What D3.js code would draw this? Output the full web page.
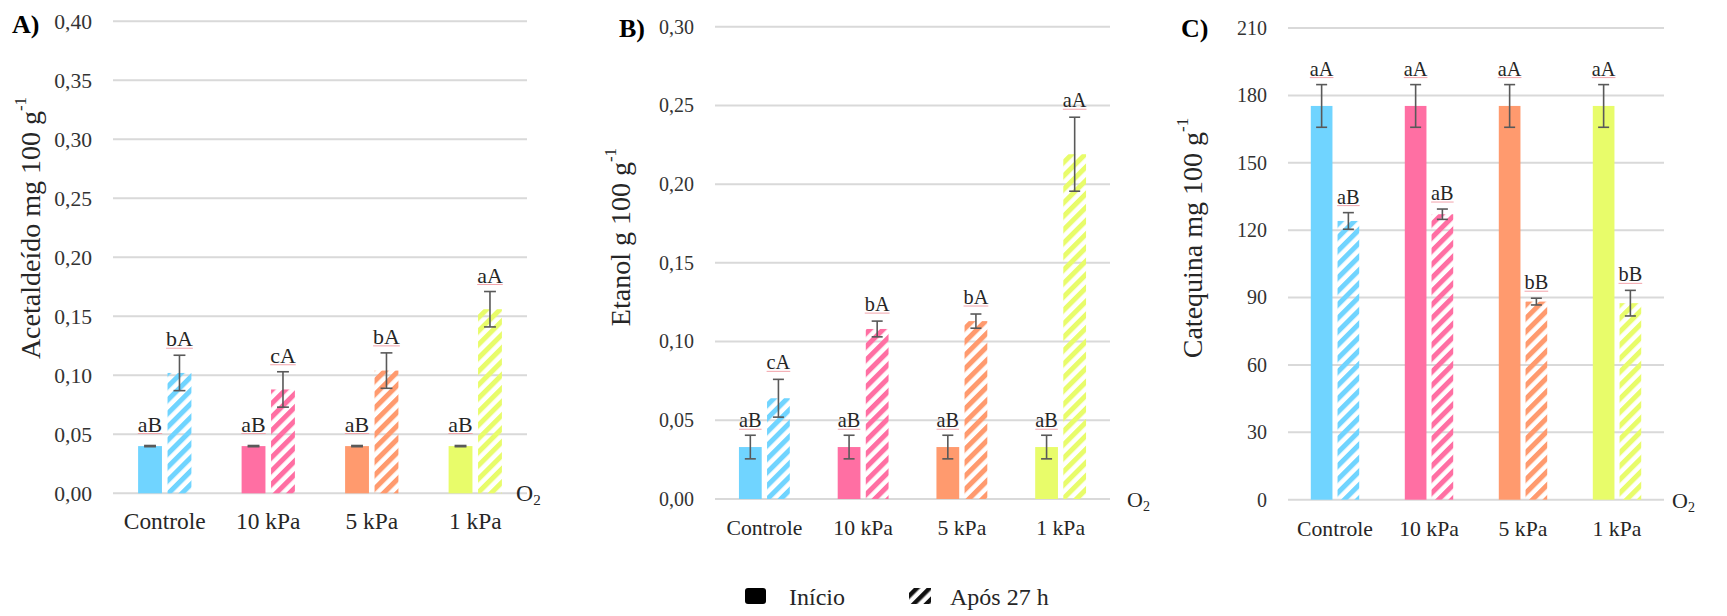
<!DOCTYPE html>
<html>
<head>
<meta charset="utf-8">
<script src="https://cdn.jsdelivr.net/npm/d3@7"></script>
<style>
  body { margin: 0; background: #fff; }
</style>
</head>
<body>
<svg id="chart" width="1727" height="616"></svg>
<script>
// categories and series
const categories = ["Controle", "10 kPa", "5 kPa", "1 kPa"]
const seriesNames = ["Início", "Após 27 h"]
const colors = ["#70d4ff", "#ff6fa3", "#ff9a6e", "#e8fc6a"]

// A) acetaldeído
const acetInicio = [0.040, 0.040, 0.040, 0.040]
const acetInicioErr = [0.0005, 0.0005, 0.0005, 0.0005]
const acetApos = [0.102, 0.088, 0.104, 0.156]
const acetAposErr = [0.015, 0.015, 0.015, 0.015]
const acetInicioLabels = ["aB", "aB", "aB", "aB"]
const acetAposLabels = ["bA", "cA", "bA", "aA"]
const acetTicks = [0, 0.05, 0.10, 0.15, 0.20, 0.25, 0.30, 0.35, 0.40]

// B) etanol
const etanolInicio = [0.033, 0.033, 0.033, 0.033]
const etanolInicioErr = [0.0075, 0.0075, 0.0075, 0.0075]
const etanolApos = [0.064, 0.108, 0.113, 0.219]
const etanolAposErr = [0.012, 0.005, 0.0045, 0.0235]
const etanolInicioLabels = ["aB", "aB", "aB", "aB"]
const etanolAposLabels = ["cA", "bA", "bA", "aA"]
const etanolTicks = [0, 0.05, 0.10, 0.15, 0.20, 0.25, 0.30]

// C) catequina
const catInicio = [175.3, 175.3, 175.3, 175.3]
const catInicioErr = [9.5, 9.5, 9.5, 9.5]
const catApos = [124.1, 127.1, 88.2, 87.5]
const catAposErr = [3.7, 2.3, 1.5, 5.7]
const catInicioLabels = ["aA", "aA", "aA", "aA"]
const catAposLabels = ["aB", "aB", "bB", "bB"]
const catTicks = [0, 30, 60, 90, 120, 150, 180, 210]

// find a serif face that is actually installed
function pickFont(list) {
    const ctx = document.createElement("canvas").getContext("2d")
    const probe = "Controle Acetaldeído 0,40 aB"
    ctx.font = "30px monospace"
    const base = ctx.measureText(probe).width
    for (const f of list) {
        ctx.font = `30px "${f}", monospace`
        if (Math.abs(ctx.measureText(probe).width - base) > 0.5) return `"${f}"`
    }
    return "serif"
}
const serif = pickFont(["Liberation Serif", "Tinos", "Times New Roman", "Nimbus Roman", "DejaVu Serif", "Noto Serif"])

const svg = d3.select("#chart")
    .style("font-family", serif)
const defs = svg.append("defs")

// hatch patterns, one per colour
colors.forEach((c, i) => {
    const p = defs.append("pattern")
        .attr("id", "hatch" + i)
        .attr("patternUnits", "userSpaceOnUse")
        .attr("width", 9.5).attr("height", 9.5)
        .attr("patternTransform", "rotate(45)")
    p.append("rect").attr("width", 5).attr("height", 9.5).attr("fill", c)
})
const lp = defs.append("pattern")
    .attr("id", "hatchLegend")
    .attr("patternUnits", "userSpaceOnUse")
    .attr("width", 9).attr("height", 9)
    .attr("patternTransform", "rotate(45)")
lp.append("rect").attr("width", 4.5).attr("height", 9).attr("fill", "#111")

const fmt2 = d => d3.format(".2f")(d).replace(".", ",")

const panels = [
    { letter: "A)", title: "Acetaldeído mg 100 g", inicio: acetInicio, inicioErr: acetInicioErr,
      apos: acetApos, aposErr: acetAposErr, inicioLabels: acetInicioLabels, aposLabels: acetAposLabels,
      ticks: acetTicks, fmt: fmt2, fs: 1.08, gap: [14, 9],
      left: 113, right: 527, bottom: 493.3, top: 21.3, o2X: 516,
      letterX: 12, letterY: 33, titleX: 30, titleY: 228 },
    { letter: "B)", title: "Etanol g 100 g", inicio: etanolInicio, inicioErr: etanolInicioErr,
      apos: etanolApos, aposErr: etanolAposErr, inicioLabels: etanolInicioLabels, aposLabels: etanolAposLabels,
      ticks: etanolTicks, fmt: fmt2, fs: 1.0, gap: [8, 10],
      left: 715, right: 1110, bottom: 499, top: 26.7, o2X: 1127,
      letterX: 619, letterY: 37, titleX: 620, titleY: 237 },
    { letter: "C)", title: "Catequina mg 100 g", inicio: catInicio, inicioErr: catInicioErr,
      apos: catApos, aposErr: catAposErr, inicioLabels: catInicioLabels, aposLabels: catAposLabels,
      ticks: catTicks, fmt: d => d3.format("d")(d), fs: 1, gap: [9, 9],
      left: 1288, right: 1664, bottom: 499.7, top: 28, o2X: 1672,
      letterX: 1181, letterY: 37, titleX: 1192, titleY: 238 }
]

panels.forEach(drawPanel)

function drawPanel(p) {
    const g = svg.append("g").attr("fill", "#262626")
    const maxV = p.ticks[p.ticks.length - 1]

    const y = d3.scaleLinear().domain([0, maxV]).range([p.bottom, p.top])
    const x0 = d3.scaleBand().domain(categories).range([p.left, p.right]).padding(0)
    const step = x0.bandwidth()
    const x1 = d3.scaleBand().domain(seriesNames)
        .range([step * 0.2425, step * 0.7575]).paddingInner(0.19)

    // gridlines
    g.selectAll(".grid").data(p.ticks).enter().append("line")
        .attr("x1", p.left).attr("x2", p.right)
        .attr("y1", d => y(d)).attr("y2", d => y(d))
        .attr("stroke", "#d9d9d9").attr("stroke-width", 2)

    // y axis via d3.axisLeft, styled down
    const ax = g.append("g")
        .attr("transform", `translate(${p.left},0)`)
        .call(d3.axisLeft(y).tickValues(p.ticks).tickFormat(p.fmt).tickSize(0).tickPadding(21))
    ax.attr("font-family", null).attr("font-size", null)
    ax.select(".domain").remove()
    ax.selectAll("text")
        .style("font-size", 20 * p.fs + "px").attr("fill", "#333")

    // category labels
    g.selectAll(".cat").data(categories).enter().append("text")
        .attr("x", d => x0(d) + step / 2)
        .attr("y", p.bottom + 36)
        .attr("text-anchor", "middle")
        .style("font-size", 21.7 * p.fs + "px")
        .text(d => d)

    const rows = categories.map((c, i) => [
        { cat: c, s: 0, v: p.inicio[i], e: p.inicioErr[i], lab: p.inicioLabels[i], fill: colors[i] },
        { cat: c, s: 1, v: p.apos[i], e: p.aposErr[i], lab: p.aposLabels[i], fill: `url(#hatch${i})` }
    ]).flat()

    g.selectAll(".bar").data(rows).enter().append("rect")
        .attr("x", d => x0(d.cat) + x1(seriesNames[d.s]))
        .attr("width", x1.bandwidth())
        .attr("y", d => y(d.v))
        .attr("height", d => y(0) - y(d.v))
        .attr("fill", d => d.fill)

    // error bars
    const eb = g.selectAll(".err").data(rows).enter().append("g")
        .attr("stroke", "#595959").attr("stroke-width", 1.6)
    const cx = d => x0(d.cat) + x1(seriesNames[d.s]) + x1.bandwidth() / 2
    const cap = 5.5 * p.fs
    eb.append("line").attr("x1", cx).attr("x2", cx)
        .attr("y1", d => y(d.v + d.e)).attr("y2", d => y(d.v - d.e))
    eb.append("line").attr("x1", d => cx(d) - cap).attr("x2", d => cx(d) + cap)
        .attr("y1", d => y(d.v + d.e)).attr("y2", d => y(d.v + d.e))
    eb.append("line").attr("x1", d => cx(d) - cap).attr("x2", d => cx(d) + cap)
        .attr("y1", d => y(d.v - d.e)).attr("y2", d => y(d.v - d.e))

    // letter labels with the faint red underline
    const labY = d => y(d.v + d.e) - p.gap[d.s]
    const lab = g.selectAll(".lab").data(rows).enter().append("g")
    lab.append("text")
        .attr("x", cx)
        .attr("y", labY)
        .attr("text-anchor", "middle")
        .style("font-size", 20.3 * p.fs + "px")
        .text(d => d.lab)
    lab.each(function(d) {
        const t = d3.select(this).select("text")
        const w = t.node().getComputedTextLength()
        d3.select(this).append("line")
            .attr("x1", cx(d) - w / 2).attr("x2", cx(d) + w / 2)
            .attr("y1", labY(d) + 2).attr("y2", labY(d) + 2)
            .attr("stroke", "#f2a3ab").attr("stroke-width", 1)
    })

    // O2 label
    const o2 = g.append("text")
        .attr("x", p.o2X).attr("y", p.bottom + 8)
        .style("font-size", 22 * p.fs + "px")
    o2.append("tspan").text("O")
    o2.append("tspan").attr("dy", 4).style("font-size", 14 * p.fs + "px").text("2")

    // panel letter
    g.append("text")
        .attr("x", p.letterX).attr("y", p.letterY)
        .style("font-size", "26px").style("font-weight", "bold")
        .attr("fill", "#000")
        .text(p.letter)

    // axis title
    const t = g.append("text")
        .attr("transform", `translate(${p.titleX},${p.titleY}) rotate(-90)`)
        .attr("text-anchor", "middle")
        .attr("dominant-baseline", "central")
        .style("font-size", "28px")
    t.append("tspan").text(p.title)
    t.append("tspan").attr("dy", -10).style("font-size", "17px").text("-1")
}

// legend
const leg = svg.append("g").attr("fill", "#262626")
leg.append("rect").attr("x", 745).attr("y", 588).attr("width", 21).attr("height", 16)
    .attr("rx", 3).attr("fill", "#000")
leg.append("text").attr("x", 789).attr("y", 605).style("font-size", "24px").text(seriesNames[0])
leg.append("rect").attr("x", 909).attr("y", 588).attr("width", 22).attr("height", 16)
    .attr("fill", "url(#hatchLegend)")
leg.append("text").attr("x", 950).attr("y", 605).style("font-size", "24px").text(seriesNames[1])
</script>
</body>
</html>
